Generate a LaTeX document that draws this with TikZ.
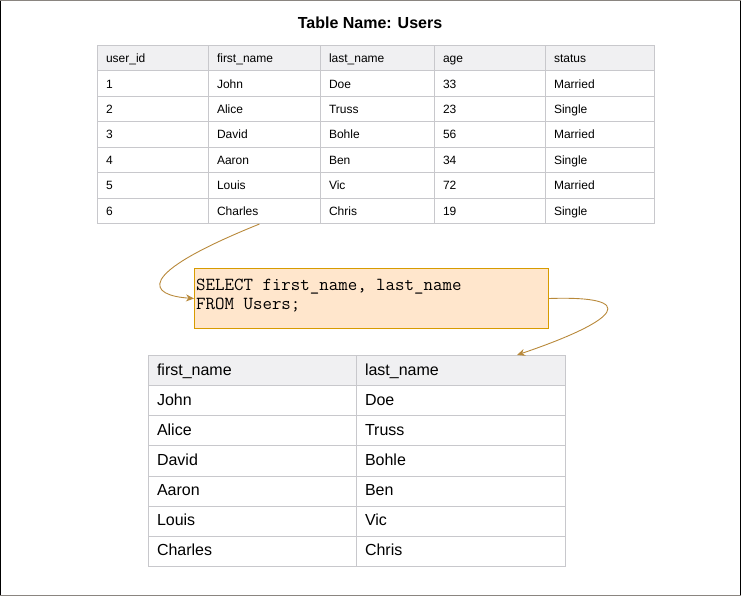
\documentclass[tikz,border=0pt]{standalone}
\usepackage{fontspec}
\setmainfont{Liberation Sans}
\usetikzlibrary{arrows.meta,calc}

\definecolor{gridgray}{HTML}{C8C8CC}
\definecolor{headgray}{HTML}{F0F0F2}
\definecolor{sqlfill}{HTML}{FFE6CC}
\definecolor{sqldraw}{HTML}{D79B00}
\definecolor{flowline}{HTML}{B8893A}
\definecolor{framegray}{HTML}{8A8580}

\tikzset{
  cell/.style={draw=gridgray, line width=1pt, rectangle, anchor=north west,
    inner xsep=8.5pt, inner ysep=0pt, align=left,
    text height=1.7ex, text depth=0pt},
  sqlbox/.style={draw=sqldraw, fill=sqlfill, line width=1pt, anchor=north west,
    minimum width=354pt, minimum height=60pt},
  sqltext/.style={anchor=north west, inner sep=0pt, align=left,
    font=\ttfamily\fontsize{18.4}{19}\selectfont},
  flow/.style={draw=flowline, line width=0.9pt, -{Stealth[length=8pt,width=7pt]}}
}

\begin{document}
\begin{tikzpicture}[x=1pt,y=-1pt]
  \useasboundingbox (0,0) rectangle (741,596);
  % frame
  \draw[line width=1pt,black] (0.5,0)--(0.5,596);
  \draw[line width=1pt,black] (740.5,0)--(740.5,596);
  \draw[line width=1.5pt,framegray] (0,0.75)--(741,0.75);
  \draw[line width=1.5pt,framegray] (0,595.25)--(741,595.25);

  \node[font=\bfseries\fontsize{16}{19}\selectfont] (title) at (370,22.5) {Table Name: Users};

  % users table
  \foreach \row [count=\r from 0] in {{user\_id,first\_name,last\_name,age,status},
      {1,John,Doe,33,Married},{2,Alice,Truss,23,Single},{3,David,Bohle,56,Married},
      {4,Aaron,Ben,34,Single},{5,Louis,Vic,72,Married},{6,Charles,Chris,19,Single}}{
    \ifnum\r=0 \def\cellfill{headgray}\else\def\cellfill{white}\fi
    \foreach \txt [count=\c] in \row {
      \pgfmathsetmacro\colx{{97,208,320,434,545}[\c-1]}
      \pgfmathsetmacro\colw{{111,112,114,111,109}[\c-1]-17}
      \node[cell, fill=\cellfill, text width=\colw pt, minimum height=25.43pt,
        font=\fontsize{12}{14}\selectfont] (u-\r-\c) at (\colx,45+25.43*\r) {\txt};
    }
  }

  % query
  \node[sqlbox] (sql) at (194,268) {};
  \node[sqltext] (sqlcode) at (196,279) {SELECT first\_name, last\_name\\FROM Users;};

  % result table
  \foreach \row [count=\r from 0] in {{first\_name,last\_name},{John,Doe},{Alice,Truss},
      {David,Bohle},{Aaron,Ben},{Louis,Vic},{Charles,Chris}}{
    \ifnum\r=0 \def\cellfill{headgray}\else\def\cellfill{white}\fi
    \foreach \txt [count=\c] in \row {
      \pgfmathsetmacro\colx{{148,356}[\c-1]}
      \pgfmathsetmacro\colw{{208,209}[\c-1]-17}
      \node[cell, fill=\cellfill, text width=\colw pt, minimum height=30.14pt,
        font=\fontsize{16}{19}\selectfont] (r-\r-\c) at (\colx,355+30.14*\r) {\txt};
    }
  }

  \coordinate (rin) at ([xshift=56pt]r-0-2.north);
  \draw[flow] ([xshift=-5pt]u-6-2.south) .. controls +(-129,52) and +(-44,-3) .. (sql.west);
  \draw[flow] (sql.east) .. controls +(92,-3) and +(103,-35) .. (rin);
\end{tikzpicture}
\end{document}
